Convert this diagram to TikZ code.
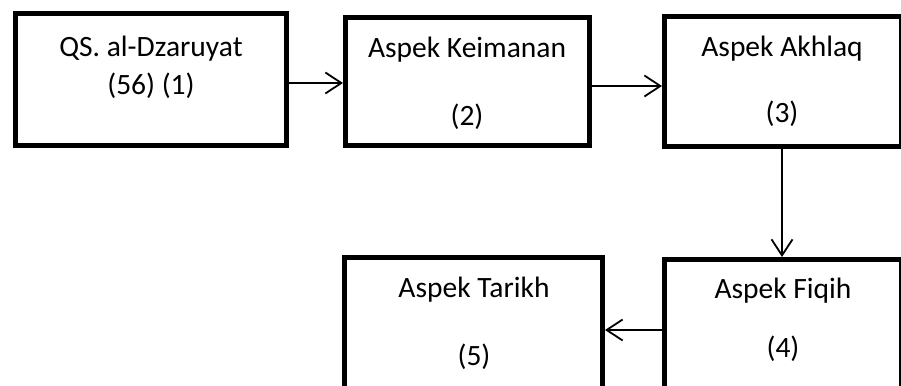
\documentclass[tikz,border=0pt]{standalone}
\usepackage{fontspec}
\setmainfont{Carlito}
\usetikzlibrary{arrows.meta}
\begin{document}
\begin{tikzpicture}[x=1pt,y=-1pt,
  box/.style={draw=black, line width=5pt, rectangle, inner sep=0pt, minimum width=#1},
  lbl/.style={font=\fontsize{29.5}{31}\selectfont, anchor=base, inner sep=0pt},
  arr/.style={draw=black, line width=1.8pt, -{Straight Barb[length=16pt,width=21pt,line width=1.8pt]}}]
\path[use as bounding box, clip] (0,0) rectangle (901,385);
% boxes
\node[box=271pt, minimum height=132pt] (b1) at (151,79.5) {};
\node[box=244pt, minimum height=128pt] (b2) at (467.5,81.5) {};
\node[box=237pt, minimum height=130pt] (b3) at (783,81.5) {};
\node[box=237pt, minimum height=141pt] (b4) at (783,330) {};
\node[box=258pt, minimum height=143pt] (b5) at (473.5,329) {};
% texts
\node[lbl] (t1a) at (151,57) {QS. al-Dzaruyat};
\node[lbl] (t1b) at (151,95) {(56) (1)};
\node[lbl] (t2a) at (467,58) {Aspek Keimanan};
\node[lbl] (t2b) at (467,125) {(2)};
\node[lbl] (t3a) at (782,57) {Aspek Akhlaq};
\node[lbl] (t3b) at (782,122) {(3)};
\node[lbl] (t4a) at (783,298) {Aspek Fiqih};
\node[lbl] (t4b) at (783,357) {(4)};
\node[lbl] (t5a) at (474,297) {Aspek Tarikh};
\node[lbl] (t5b) at (474,365) {(5)};
% connectors
\draw[arr] ([yshift=-3.5pt]b1.east) -- ([yshift=-1.5pt]b2.west);
\draw[arr] ([yshift=-4.5pt]b2.east) -- ([yshift=-4.5pt]b3.west);
\draw[arr] ([xshift=-1pt]b3.south) -- ([xshift=-1pt]b4.north);
\draw[arr] (b4.west) -- (b4.west -| b5.east);
\end{tikzpicture}
\end{document}
